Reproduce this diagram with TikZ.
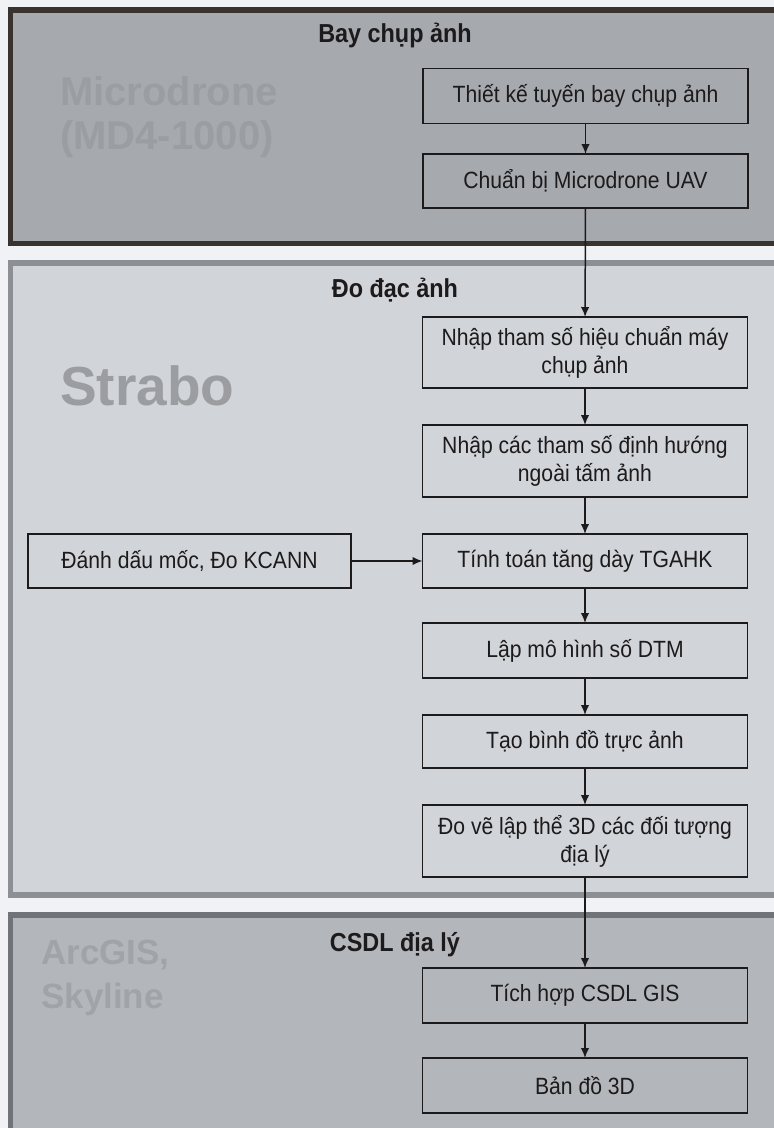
\documentclass[tikz,border=0pt]{standalone}
\usepackage{fontspec}
\setmainfont{Liberation Sans}[FakeStretch=0.9]
\newfontfamily\wmfont{Liberation Sans}
\usetikzlibrary{arrows.meta}
\definecolor{pagebg}{RGB}{240,242,245}
\definecolor{topfill}{RGB}{166,169,174}
\definecolor{topline}{RGB}{58,50,46}
\definecolor{midfill}{RGB}{209,212,216}
\definecolor{midline}{RGB}{140,143,147}
\definecolor{botfill}{RGB}{179,182,186}
\definecolor{botline}{RGB}{112,115,119}
\definecolor{inkc}{RGB}{28,26,26}
\tikzset{
  panelbox/.style={line width=5.5pt},
  stepbox/.style={draw=inkc, line width=1.5pt, rectangle, minimum width=325pt, inner sep=2pt, outer sep=0pt, align=center, text=inkc, font=\fontsize{23.5}{28}\selectfont},
  paneltitle/.style={font=\bfseries\fontsize{26}{30}\selectfont, text=inkc},
  wmark/.style={font=\wmfont\bfseries, align=left, anchor=north west, inner sep=0pt},
  arr/.style={draw=inkc, line width=1.5pt, -{Latex[length=10pt,width=8.5pt]}}
}
\begin{document}
\begin{tikzpicture}[x=1pt, y=-1pt]
\useasboundingbox (0,0) rectangle (774,1128);
\clip (0,0) rectangle (774,1128);
\fill[pagebg] (0,0) rectangle (774,1128);
% panels
\draw[panelbox, draw=topline, fill=topfill] (10.5,10) rectangle (800,243.5);
\draw[panelbox, draw=midline, fill=midfill] (10.5,263) rectangle (800,895);
\draw[panelbox, draw=botline, fill=botfill] (10.5,915) rectangle (800,1160);
% watermark labels
\node[wmark, text=topfill!93!black, font=\wmfont\bfseries\fontsize{40}{44}\selectfont] (wm1) at (60,76) {Microdrone\\(MD4-1000)};
\node[wmark, text=midfill!74!black, font=\wmfont\bfseries\fontsize{55}{60}\selectfont] (wm2) at (60,365) {Strabo};
\node[wmark, text=botfill!90!black, font=\wmfont\bfseries\fontsize{35}{44}\selectfont] (wm3) at (41,940) {ArcGIS,\\Skyline};
% panel titles
\node[paneltitle] (t1) at (395,35) {Bay chụp ảnh};
\node[paneltitle] (t2) at (395,290) {Đo đạc ảnh};
\node[paneltitle] (t3) at (395,945) {CSDL địa lý};
% boxes
\node[stepbox, minimum height=55pt] (b1) at (585.5,96) {Thiết kế tuyến bay chụp ảnh};
\node[stepbox, minimum height=54pt] (b2) at (585.5,181) {Chuẩn bị Microdrone UAV};
\node[stepbox, minimum height=71pt] (b3) at (585,352.5) {Nhập tham số hiệu chuẩn máy\\chụp ảnh};
\node[stepbox, minimum height=72pt] (b4) at (585,461) {Nhập các tham số định hướng\\ngoài tấm ảnh};
\node[stepbox, minimum height=54pt] (b5) at (585,561) {Tính toán tăng dày TGAHK};
\node[stepbox, minimum height=54pt, minimum width=323pt] (b0) at (189.5,561) {Đánh dấu mốc, Đo KCANN};
\node[stepbox, minimum height=55pt] (b6) at (585,650.5) {Lập mô hình số DTM};
\node[stepbox, minimum height=53pt] (b7) at (585,741.5) {Tạo bình đồ trực ảnh};
\node[stepbox, minimum height=72pt] (b8) at (585,841) {Đo vẽ lập thể 3D các đối tượng\\địa lý};
\node[stepbox, minimum height=55pt] (b9) at (585,995.5) {Tích hợp CSDL GIS};
\node[stepbox, minimum height=55pt] (b10) at (585,1085.5) {Bản đồ 3D};
% connectors
\draw[arr] (b1) -- (b2);
\draw[arr] (b2) -- (b3);
\draw[arr] (b3) -- (b4);
\draw[arr] (b4) -- (b5);
\draw[arr] (b0) -- (b5);
\draw[arr] (b5) -- (b6);
\draw[arr] (b6) -- (b7);
\draw[arr] (b7) -- (b8);
\draw[arr] (b8) -- (b9);
\draw[arr] (b9) -- (b10);
\end{tikzpicture}
\end{document}
